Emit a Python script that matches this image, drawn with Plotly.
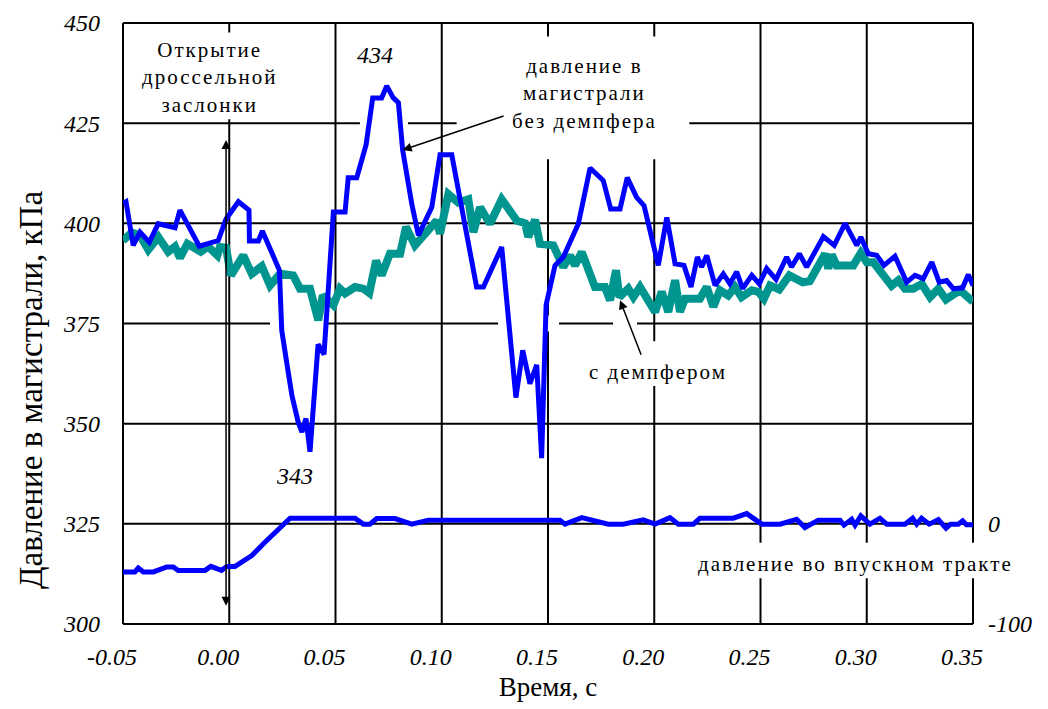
import plotly.graph_objects as go

# ---------------- data ----------------
# main-line pressure without damper (kPa)
t_nodamp = [-0.0500, -0.0486, -0.0452, -0.0420, -0.0376, -0.0334, -0.0255, -0.0232, -0.0141, -0.0052,
            -0.0015, 0.0043, 0.0093, 0.0095, 0.0137, 0.0156, 0.0236, 0.0247, 0.0272, 0.0295,
            0.0324, 0.0342, 0.0361, 0.0380, 0.0418, 0.0446, 0.0490, 0.0545, 0.0560, 0.0600,
            0.0644, 0.0675, 0.0717, 0.0741, 0.0772, 0.0796, 0.0816, 0.0859, 0.0890, 0.0953,
            0.0992, 0.1047, 0.1164, 0.1196, 0.1282, 0.1349, 0.1381, 0.1415, 0.1447, 0.1470,
            0.1491, 0.1533, 0.1572, 0.1643, 0.1698, 0.1760, 0.1795, 0.1839, 0.1873, 0.1917,
            0.1952, 0.2019, 0.2059, 0.2098, 0.2140, 0.2173, 0.2203, 0.2223, 0.2247, 0.2286,
            0.2325, 0.2356, 0.2388, 0.2416, 0.2459, 0.2494, 0.2529, 0.2573, 0.2623, 0.2646,
            0.2683, 0.2717, 0.2796, 0.2847, 0.2898, 0.2953, 0.2972, 0.3007, 0.3047, 0.3081,
            0.3133, 0.3188, 0.3227, 0.3266, 0.3306, 0.3341, 0.3376, 0.3407, 0.3451, 0.3478,
            0.3500]
p_nodamp = [405.0, 405.4, 394.5, 397.8, 395.3, 399.9, 398.9, 403.3, 394.3, 395.7,
            401.1, 405.4, 403.3, 395.6, 395.6, 398.1, 388.3, 373.3, 364.7, 357.0,
            350.5, 347.9, 351.3, 343.0, 369.8, 367.3, 402.8, 402.8, 411.4, 411.4,
            419.6, 431.3, 431.3, 434.3, 431.3, 430.1, 418.3, 404.8, 397.0, 404.0,
            417.1, 417.1, 384.1, 384.1, 394.1, 356.5, 368.3, 360.0, 364.7, 341.4,
            379.6, 389.5, 391.6, 399.9, 413.8, 410.7, 403.6, 403.6, 411.4, 406.5,
            404.4, 389.5, 401.5, 389.9, 389.5, 384.1, 391.6, 389.1, 392.0, 384.5,
            387.4, 384.9, 387.9, 383.7, 387.0, 384.9, 388.7, 386.0, 391.6, 389.1,
            392.4, 389.1, 396.7, 394.5, 400.0, 394.5, 396.6, 392.4, 392.0, 389.5,
            391.8, 385.3, 387.0, 386.2, 390.3, 385.3, 385.7, 383.7, 383.9, 387.2,
            384.5]

# main-line pressure with damper (kPa)
t_damp = [-0.0500, -0.0459, -0.0420, -0.0381, -0.0334, -0.0287, -0.0255, -0.0232, -0.0197, -0.0134,
          -0.0099, -0.0056, -0.0044, -0.0015, 0.0008, 0.0066, 0.0106, 0.0153, 0.0192, 0.0239,
          0.0301, 0.0333, 0.0380, 0.0419, 0.0440, 0.0490, 0.0521, 0.0545, 0.0592, 0.0631,
          0.0659, 0.0691, 0.0717, 0.0756, 0.0804, 0.0832, 0.0874, 0.0976, 0.0992, 0.1031,
          0.1078, 0.1125, 0.1149, 0.1180, 0.1227, 0.1282, 0.1353, 0.1392, 0.1407, 0.1439,
          0.1462, 0.1525, 0.1572, 0.1604, 0.1627, 0.1659, 0.1721, 0.1768, 0.1792, 0.1820,
          0.1836, 0.1878, 0.1902, 0.1933, 0.2004, 0.2035, 0.2066, 0.2098, 0.2121, 0.2145,
          0.2215, 0.2247, 0.2278, 0.2309, 0.2348, 0.2380, 0.2411, 0.2459, 0.2490, 0.2516,
          0.2545, 0.2588, 0.2636, 0.2675, 0.2699, 0.2732, 0.2804, 0.2819, 0.2835, 0.2858,
          0.2937, 0.2972, 0.3000, 0.3031, 0.3078, 0.3117, 0.3149, 0.3180, 0.3219, 0.3259,
          0.3298, 0.3337, 0.3373, 0.3439, 0.3500]
p_damp = [395.7, 397.7, 397.0, 393.4, 396.6, 392.9, 394.2, 391.4, 394.9, 392.9,
          394.2, 392.0, 394.1, 393.9, 387.0, 392.0, 387.4, 389.3, 384.5, 387.4,
          387.0, 383.7, 383.7, 375.8, 382.0, 379.6, 383.7, 382.5, 384.1, 383.7,
          382.6, 390.7, 387.0, 392.4, 392.4, 399.1, 394.5, 400.7, 397.4, 407.3,
          405.2, 406.0, 397.8, 404.0, 399.9, 406.0, 400.7, 400.0, 396.6, 400.9,
          394.9, 394.5, 389.1, 392.0, 389.5, 392.8, 384.1, 384.1, 380.8, 388.3,
          381.6, 383.7, 381.6, 384.1, 377.9, 382.9, 377.9, 385.8, 377.9, 381.2,
          381.2, 384.1, 379.2, 383.3, 382.0, 384.1, 381.6, 383.3, 382.9, 381.2,
          384.5, 383.5, 387.0, 386.2, 385.3, 385.6, 392.4, 388.7, 392.2, 389.5,
          389.5, 392.6, 390.3, 390.3, 387.0, 384.4, 385.8, 383.7, 383.7, 384.9,
          381.6, 383.7, 381.0, 383.3, 380.4]

# intake-tract pressure (right axis)
t_intake = [-0.0500, -0.0444, -0.0428, -0.0404, -0.0357, -0.0294, -0.0263, -0.0240, -0.0114, -0.0087,
            -0.0036, -0.0012, 0.0027, 0.0106, 0.0168, 0.0286, 0.0592, 0.0631, 0.0662, 0.0694,
            0.0780, 0.0859, 0.0937, 0.1556, 0.1580, 0.1659, 0.1784, 0.1854, 0.1948, 0.2004,
            0.2074, 0.2113, 0.2184, 0.2215, 0.2372, 0.2435, 0.2506, 0.2592, 0.2670, 0.2709,
            0.2772, 0.2874, 0.2893, 0.2929, 0.2945, 0.2972, 0.3015, 0.3062, 0.3094, 0.3180,
            0.3216, 0.3235, 0.3258, 0.3294, 0.3337, 0.3373, 0.3395, 0.3431, 0.3451, 0.3469,
            0.3500]
p_intake = [-48.0, -48.0, -44.0, -48.0, -48.0, -43.0, -43.0, -46.5, -46.5, -42.5,
            -46.5, -42.5, -42.5, -31.7, -18.5, 5.6, 5.6, -0.3, -0.3, 5.2,
            5.2, -0.3, 3.7, 3.7, -0.3, 6.2, -0.3, -0.3, 4.0, -0.3,
            6.2, -0.3, -0.3, 5.6, 5.6, 10.2, -0.3, -0.3, 4.6, -3.7,
            3.7, 3.7, -1.3, 4.6, -1.3, 7.9, -0.3, 5.6, -0.3, -0.3,
            5.6, -0.3, 5.6, -0.3, 4.3, -4.3, -0.3, -0.3, 3.0, -1.0,
            -1.0]

x_ticks = [-0.05, 0.00, 0.05, 0.10, 0.15, 0.20, 0.25, 0.30, 0.35]
x_ticklabels = ["-0.05", "0.00", "0.05", "0.10", "0.15", "0.20", "0.25", "0.30", "0.35"]
y_ticks = [300, 325, 350, 375, 400, 425, 450]
y_ticklabels = ["300", "325", "350", "375", "400", "425", "450"]
y2_ticks = [-100, 0]
y2_ticklabels = ["-100", "0"]

X_RANGE = [-0.05, 0.35]
Y_RANGE = [300, 450]
Y2_RANGE = [-100, 500]

# ---------------- styling ----------------
SERIF = "Liberation Serif, Times New Roman, serif"
BLUE = "#0000ff"
TEAL = "#00968f"


def px(t):
    return (t - X_RANGE[0]) / (X_RANGE[1] - X_RANGE[0])


def py(v):
    return (v - Y_RANGE[0]) / (Y_RANGE[1] - Y_RANGE[0])


fig = go.Figure()
fig.add_trace(go.Scatter(x=t_damp, y=p_damp, mode="lines", name="с демпфером",
                         line=dict(color=TEAL, width=8)))
fig.add_trace(go.Scatter(x=t_nodamp, y=p_nodamp, mode="lines", name="без демпфера",
                         line=dict(color=BLUE, width=5)))
fig.add_trace(go.Scatter(x=t_intake, y=p_intake, mode="lines", name="впускной тракт",
                         yaxis="y2", line=dict(color=BLUE, width=5)))

shapes = []
grid_line = dict(color="black", width=2)
for t in x_ticks:
    shapes.append(dict(type="line", xref="paper", yref="paper", x0=px(t), x1=px(t),
                       y0=0, y1=1, line=grid_line, layer="below"))
for v in y_ticks:
    shapes.append(dict(type="line", xref="paper", yref="paper", x0=0, x1=1,
                       y0=py(v), y1=py(v), line=grid_line, layer="below"))

# white boxes behind labels that interrupt the grid (t0, t1, v0, v1)
mask_boxes = [
    (-0.042, 0.043, 426.0, 447.6),
    (0.0615, 0.0841, 422.0, 428.0),
    (0.107, 0.2165, 416.0, 446.6),
    (0.163, 0.240, 359.4, 370.6),
    (0.1265, 0.1552, 373.0, 377.0),
    (0.1806, 0.1919, 373.0, 377.0),
    (0.0192, 0.0445, 373.0, 377.0),
]
for t0, t1, v0, v1 in mask_boxes:
    shapes.append(dict(type="rect", xref="paper", yref="paper", x0=px(t0), x1=px(t1),
                       y0=py(v0), y1=py(v1), fillcolor="white", line=dict(width=0),
                       layer="below"))
# box behind the intake label (extends over the right frame)
shapes.append(dict(type="rect", xref="paper", yref="paper", x0=px(0.2168), x1=1.06,
                   y0=py(311.4), y1=py(320.3), fillcolor="white", line=dict(width=0),
                   layer="below"))

label_font = dict(family=SERIF, size=21, color="black")
italic_font = dict(family=SERIF, size=24, color="black", style="italic")

annotations = [
    dict(x=-0.0091, y=436.4, xref="x", yref="y", showarrow=False,
         text="Открытие<br>дроссельной<br>заслонки", font=label_font, align="center"),
    dict(x=0.0686, y=441.9, xref="x", yref="y", showarrow=False, text="434", font=italic_font),
    dict(x=0.0309, y=337.0, xref="x", yref="y", showarrow=False, text="343", font=italic_font),
    dict(x=0.1674, y=432.4, xref="x", yref="y", showarrow=False,
         text="давление в<br>магистрали<br>без демпфера", font=label_font, align="center"),
    dict(x=0.2018, y=362.9, xref="x", yref="y", showarrow=False, text="с демпфером",
         font=label_font),
    dict(x=0.2945, y=315.1, xref="x", yref="y", showarrow=False,
         text="давление во впускном тракте", font=label_font),
    # y-axis title
    dict(x=-0.109, y=358.5, xref="paper", yref="y", showarrow=False, textangle=-90,
         xanchor="center", yanchor="middle",
         text="Давление в магистрали, кПа",
         font=dict(family=SERIF, size=33, color="black")),
    # throttle opening double arrow
    dict(x=-0.0015, y=420.8, ax=-0.0015, ay=304.2, xref="x", yref="y", axref="x", ayref="y",
         text="", showarrow=True, arrowhead=2, startarrowhead=2, arrowside="end+start",
         arrowsize=1.2, arrowwidth=1.5, arrowcolor="black", standoff=0, startstandoff=0),
    # arrow to curve without damper
    dict(x=0.0816, y=418.3, ax=0.1298, ay=426.9, xref="x", yref="y", axref="x", ayref="y",
         text="", showarrow=True, arrowhead=2, arrowsize=1.2, arrowwidth=1.5,
         arrowcolor="black", standoff=0),
    # arrow to curve with damper
    dict(x=0.1839, y=380.8, ax=0.1941, ay=366.8, xref="x", yref="y", axref="x", ayref="y",
         text="", showarrow=True, arrowhead=2, arrowsize=1.2, arrowwidth=1.5,
         arrowcolor="black", standoff=0),
]

fig.update_layout(
    width=1048, height=709,
    margin=dict(l=123, r=75, t=23, b=85),
    paper_bgcolor="white", plot_bgcolor="white",
    showlegend=False,
    hovermode=False,
    shapes=shapes,
    annotations=annotations,
    xaxis=dict(range=X_RANGE, tickvals=x_ticks, ticktext=x_ticklabels, automargin=False,
               showgrid=False, zeroline=False, showline=False, ticks="",
               tickfont=italic_font, ticklabelshift=-11, ticklabelstandoff=16,
               title=dict(text="Время, с", font=dict(family=SERIF, size=27, color="black"),
                          standoff=8)),
    yaxis=dict(range=Y_RANGE, tickvals=y_ticks, ticktext=y_ticklabels, automargin=False,
               showgrid=False, zeroline=False, showline=False, ticks="",
               tickfont=italic_font, ticklabelstandoff=22),
    yaxis2=dict(range=Y2_RANGE, overlaying="y", side="right", tickvals=y2_ticks,
                ticktext=y2_ticklabels, showgrid=False, zeroline=False, showline=False,
                automargin=False, ticks="", tickfont=italic_font, ticklabelstandoff=14),
)

post_js = """
document.body.style.margin = '0';
document.body.style.padding = '0';
document.querySelectorAll('.annotation-text').forEach(function(e){
  var s = e.textContent || '';
  if (/[\\u0400-\\u04FF]/.test(s) && s.indexOf('\\u0414\\u0430\\u0432') !== 0) {
    e.style.letterSpacing = '2px';
  }
});
"""

fig.write_html("out.html", post_script=post_js,
               config={"displayModeBar": False, "staticPlot": True})
